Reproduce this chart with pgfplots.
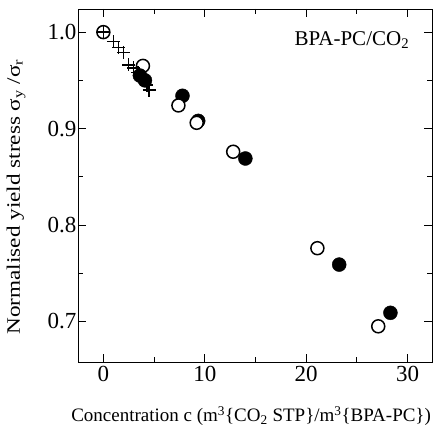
\documentclass[border=0pt]{standalone}
\usepackage{fontspec}
\setmainfont{Liberation Serif}
\usepackage{pgfplots}
\pgfplotsset{compat=1.18}

\begin{document}
\begin{tikzpicture}
\begin{axis}[
    name=ax,
    scale only axis,
    width=354pt, height=353pt,
    xmin=-2.5, xmax=32.4,
    ymin=0.658, ymax=1.024,
    xtick={0,10,20,30},
    ytick={0.7,0.8,0.9,1.0},
    minor xtick={5,15,25},
    minor ytick={0.75,0.85,0.95},
    tick align=inside,
    major tick length=8pt, minor tick length=5pt,
    tick style={line width=0.9pt, black},
    xticklabel style={font=\fontsize{23}{23}\selectfont, yshift=-1pt},
    yticklabel style={font=\fontsize{23}{23}\selectfont, xshift=2pt, /pgf/number format/fixed, /pgf/number format/fixed zerofill, /pgf/number format/precision=1},
    /pgf/number format/assume math mode=true,
    xlabel={Concentration c (m\textsuperscript{3}\{CO\textsubscript{2} STP\}/m\textsuperscript{3}\{BPA-PC\})},
    ylabel={\scalebox{1.22}[1]{Normalised yield stress σ\textsubscript{y} /σ\textsubscript{r}}},
    label style={font=\fontsize{19}{19}\selectfont},
    xlabel style={at={(axis description cs:0.489,-0.153)}, anchor=center},
    ylabel style={at={(axis description cs:-0.175,0.468)}, anchor=center},
    axis line style={line width=0.9pt},
    clip=false,
]
% crosses
\addplot[only marks, mark=+, mark size=6.5pt, line width=1.4pt] coordinates {
    (0,1.0)(1.0,0.990)(1.5,0.984)(2.0,0.979)(2.5,0.966)(3.0,0.963)(3.4,0.958)(4.3,0.945)(4.5,0.940)
};
% filled circles
\addplot[only marks, mark=*, mark size=7pt, black] coordinates {
    (3.6,0.955)(4.1,0.950)(7.8,0.934)(9.35,0.908)(14.0,0.869)(23.25,0.759)(28.3,0.709)
};
% open circles
\addplot[only marks, mark=o, mark size=6.5pt, line width=1.5pt] coordinates {
    (0,1.0)(3.9,0.965)
};
\addplot[only marks, mark=*, mark size=6.5pt, line width=1.5pt, mark options={fill=white, draw=black}] coordinates {
    (7.4,0.924)(9.2,0.906)(12.8,0.876)(21.1,0.776)(27.1,0.695)
};
\node[font=\fontsize{21}{21}\selectfont] at (axis cs:24.5,0.992) {BPA-PC/CO\textsubscript{2}};
\end{axis}
\pgfresetboundingbox
\path (ax.south west) ++(-78pt,-72pt) rectangle ++(443pt,434pt);
\end{tikzpicture}
\end{document}
